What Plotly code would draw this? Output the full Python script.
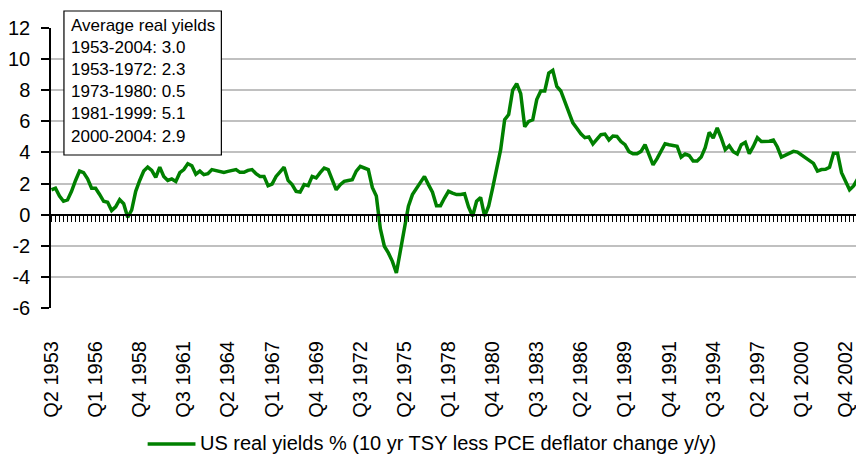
import plotly.graph_objects as go

# ---- data -------------------------------------------------------------
start_year, start_q = 1953, 2
real_yield = [
    1.6, 1.7, 1.2, 0.86, 0.95, 1.5, 2.2, 2.8, 2.7, 2.3,
    1.7, 1.7, 1.3, 0.86, 0.8, 0.26, 0.5, 0.96, 0.7, -0.17,
    0.3, 1.5, 2.2, 2.8, 3.06, 2.85, 2.4, 3.06, 2.46, 2.2,
    2.3, 2.14, 2.7, 2.9, 3.28, 3.15, 2.6, 2.8, 2.57, 2.63,
    2.9, 2.85, 2.8, 2.72, 2.78, 2.85, 2.9, 2.72, 2.72, 2.85,
    2.9, 2.63, 2.46, 2.46, 1.86, 1.97, 2.46, 2.75, 3.05, 2.2,
    1.93, 1.5, 1.45, 1.93, 1.86, 2.46, 2.36, 2.7, 3.0, 2.9,
    2.25, 1.6, 1.93, 2.14, 2.2, 2.25, 2.8, 3.1, 3.0, 2.9,
    1.75, 1.2, -0.9, -2.03, -2.46, -3.0, -3.75, -2.25, -0.64, 0.54,
    1.29, 1.71, 2.1, 2.46, 1.93, 1.44, 0.58, 0.58, 1.07, 1.5,
    1.39, 1.29, 1.3, 1.35, 0.5, -0.1, 0.86, 1.11, -0.1, 0.54,
    1.71, 2.9, 4.18, 6.1, 6.43, 8.0, 8.42, 7.78, 5.65, 6.0,
    6.1, 7.4, 7.95, 7.95, 9.1, 9.28, 8.25, 7.95, 7.3, 6.6,
    5.9, 5.55, 5.2, 4.95, 5.0, 4.55, 4.85, 5.14, 5.18, 4.8,
    5.05, 5.03, 4.7, 4.5, 4.05, 3.92, 3.92, 4.07, 4.5, 3.9,
    3.2, 3.6, 4.1, 4.56, 4.5, 4.45, 4.4, 3.7, 3.9, 3.8,
    3.45, 3.45, 3.7, 4.3, 5.29, 4.93, 5.57, 4.93, 4.18, 4.43,
    4.05, 3.9, 4.5, 4.65, 3.92, 4.39, 4.95, 4.7, 4.7, 4.72,
    4.8, 4.35, 3.7, 3.82, 3.95, 4.07, 4.02, 3.85, 3.7, 3.5,
    3.3, 2.8, 2.9, 2.92, 3.05, 3.95, 3.95, 2.7, 2.2, 1.6,
    1.85, 2.3, 2.57, 2.3,
]

tick_labels = [
    "Q2 1953", "Q1 1956", "Q4 1958", "Q3 1961", "Q2 1964", "Q1 1967",
    "Q4 1969", "Q3 1972", "Q2 1975", "Q1 1978", "Q4 1980", "Q3 1983",
    "Q2 1986", "Q1 1989", "Q4 1991", "Q3 1994", "Q2 1997", "Q1 2000",
    "Q4 2002",
]

y_ticks = [-6, -4, -2, 0, 2, 4, 6, 8, 10, 12]
y_tick_text = ["-6", "-4", "-2", "0", "2", "4", "6", "8", "10", "12"]

stat_title = "Average real yields"
stat_periods = ["1953-2004", "1953-1972", "1973-1980", "1981-1999", "2000-2004"]
stat_values = ["3.0", "2.3", "0.5", "5.1", "2.9"]

series_name = "US real yields % (10 yr TSY less PCE deflator change y/y)"

# ---- categories -------------------------------------------------------
quarters = []
y, q = start_year, start_q
for _ in real_yield:
    quarters.append(f"Q{q} {y}")
    q += 1
    if q > 4:
        q = 1
        y += 1
idx = list(range(len(quarters)))
tick_idx = [quarters.index(t) for t in tick_labels]

FONT = "Liberation Sans, Arial, sans-serif"
GREEN = "#008000"
xr = [-0.12, 202.6]

# The page body adds an 8px offset; the figure is sized to fill the rest.
PAGE_OFF = 8
W, H = 864 - PAGE_OFF, 459 - PAGE_OFF
PL, PT, PW, PH = 48, 28, 816, 280          # plot area in window pixels


def px(xw):
    return (xw - PL) / PW


def py(yw):
    return (PT + PH - yw) / PH


fig = go.Figure()
fig.add_trace(go.Scatter(
    x=idx, y=real_yield, mode="lines", name=series_name,
    line=dict(color=GREEN, width=3.5), showlegend=False,
    hovertext=quarters,
))

fig.update_layout(
    width=W, height=H,
    margin=dict(l=PL - PAGE_OFF, r=0, t=PT - PAGE_OFF, b=H - (PT - PAGE_OFF) - PH),
    paper_bgcolor="white", plot_bgcolor="white",
    font=dict(family=FONT, size=20, color="black"),
    xaxis=dict(
        range=xr, tickmode="array", tickvals=tick_idx, ticktext=tick_labels,
        tickangle=-90, showgrid=False, zeroline=False, showline=False,
        ticks="", ticklabelstandoff=28, tickfont=dict(size=20),
    ),
    xaxis2=dict(
        overlaying="x", anchor="free", position=1/3, side="bottom",
        range=xr, tickmode="linear", tick0=0, dtick=1,
        showline=True, linecolor="black", linewidth=1.5,
        ticks="outside", ticklen=7, tickwidth=1, tickcolor="black",
        showticklabels=False, showgrid=False, zeroline=False,
    ),
    yaxis=dict(
        range=[-6, 12], tickmode="array", tickvals=y_ticks, ticktext=y_tick_text,
        showgrid=True, gridcolor="#c0c0c0", gridwidth=1.5,
        zeroline=False, showline=True, linecolor="black", linewidth=1.5,
        ticks="outside", ticklen=8, tickwidth=1.5, tickcolor="black",
        tickfont=dict(size=20), ticklabelstandoff=7,
    ),
)
# empty trace so the quarter-tick axis at y=0 renders
fig.add_trace(go.Scatter(x=[None], y=[None], xaxis="x2", showlegend=False))

# stats box
stat_lines = [stat_title] + [f"{p}: {v}" for p, v in zip(stat_periods, stat_values)]
fig.add_shape(type="rect", xref="paper", yref="paper",
              x0=px(61), x1=px(219), y0=py(155), y1=py(11),
              line=dict(color="black", width=1.2), fillcolor="white", layer="above")
fig.add_annotation(
    xref="paper", yref="paper", x=px(66), y=py(81),
    xanchor="left", yanchor="middle", align="left", showarrow=False,
    text="<br>".join(stat_lines), font=dict(size=17, family=FONT, color="black"),
)

# legend (manual)
fig.add_shape(type="line", xref="paper", yref="paper",
              x0=px(145), x1=px(193), y0=py(444), y1=py(444),
              line=dict(color=GREEN, width=3.5))
fig.add_annotation(
    xref="paper", yref="paper", x=px(196), y=py(443),
    xanchor="left", yanchor="middle", showarrow=False,
    text=series_name, font=dict(size=20, family=FONT, color="black"),
)

fig.write_html("out.html")
